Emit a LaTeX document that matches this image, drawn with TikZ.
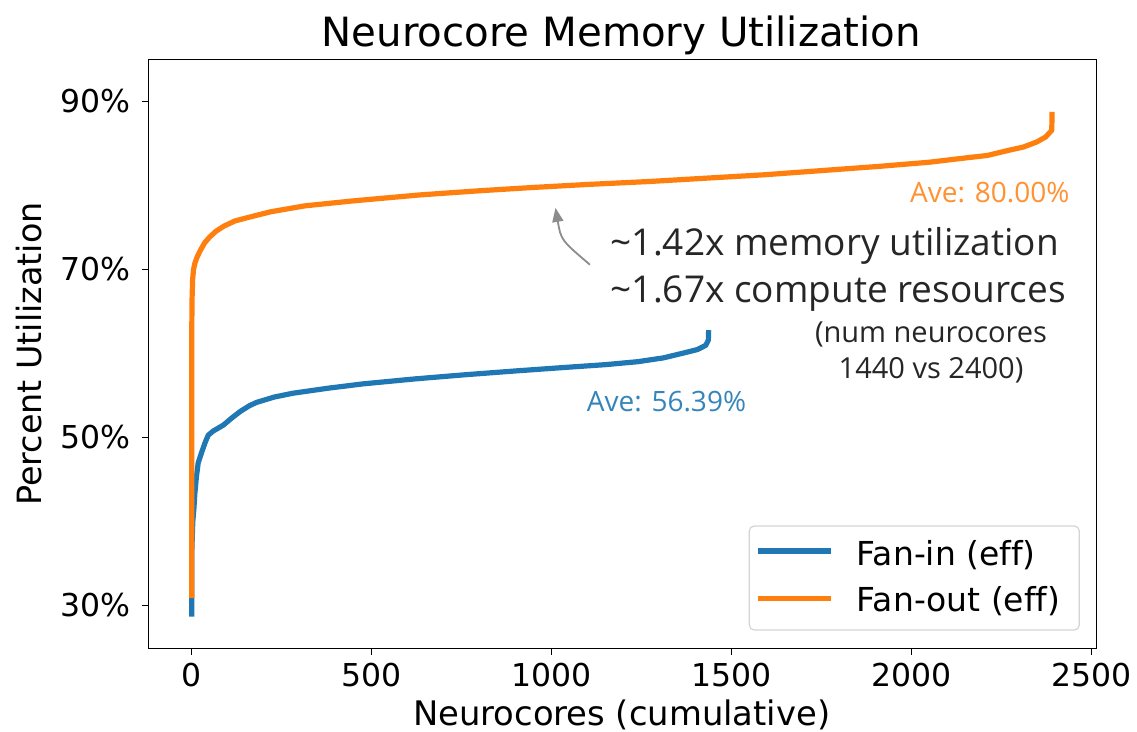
\documentclass[tikz,border=0pt]{standalone}
\usepackage{fontspec}
\setmainfont[Ligatures=CommonOff]{DejaVu Sans}
\newfontfamily\osans{Open Sans}
\usetikzlibrary{arrows.meta}
\definecolor{tabblue}{HTML}{1F77B4}
\definecolor{taborange}{HTML}{FF7F0E}
\definecolor{anntext}{HTML}{262626}
\definecolor{arrgray}{HTML}{8C8C8C}
\definecolor{legedge}{HTML}{D4D4D4}
\newcommand{\fsz}[1]{\fontsize{#1}{#1}\selectfont}
\begin{document}
\begin{tikzpicture}[x=1pt,y=-1pt,
  ticklab/.style={inner sep=0pt,font=\fsz{31.5}},
  tickmark/.style={line width=1.2pt,black},
  series/.style={line width=5.2pt,line join=round},
  avelab/.style={inner sep=0pt,anchor=base west,font=\osans\fsz{28}},
  anntxt/.style={inner sep=0pt,text=anntext},
  legtxt/.style={inner sep=0pt,anchor=base west,font=\fsz{33}},
  ]
\useasboundingbox[fill=white] (0,0) rectangle (1137,731);

% axes frame
\draw[line width=1.2pt] (148.7,59.3) rectangle (1096.7,648.3);

% x ticks
\foreach \v/\px in {0/191.7,500/371.7,1000/551.7,1500/731.7,2000/911.7,2500/1091.7}{
  \draw[tickmark] (\px,648.3) -- (\px,655.3);
  \node[ticklab,anchor=base] (xt\v) at (\px,686.7) {\v};
}
% y ticks
\foreach \v/\py in {30/605.7,50/437.7,70/269.7,90/101.7}{
  \draw[tickmark] (141.7,\py) -- (148.7,\py);
  \node[ticklab,anchor=base east] (yt\v) at (130.5,{\py+10.8}) {\v\%};
}

% labels
\node[inner sep=0pt,anchor=base,font=\fsz{40.3}] (title) at (621.4,46) {Neurocore Memory Utilization};
\node[inner sep=0pt,anchor=base,font=\fsz{33.8}] (xlab) at (621.7,725) {Neurocores (cumulative)};
\node[inner sep=0pt,anchor=base,rotate=90,font=\fsz{33.4}] (ylab) at (41.7,354) {Percent Utilization};

% data
\begin{scope}[shift={(191.7,857.7)},x=0.36pt,y=8.4pt]
\draw[series,tabblue] plot coordinates {(0,28.7) (0,36) (3,40) (6,41.5) (9,43.5) (13,45.3) (18,47) (28,48.3) (38,49.5) (46,50.3) (60,50.8) (88,51.5) (110,52.3) (134,53.1) (160,53.8) (180,54.2) (230,54.85) (282,55.3) (380,55.9) (474,56.4) (620,57.0) (761,57.5) (900,57.95) (1048,58.4) (1150,58.7) (1239,59.05) (1310,59.5) (1363,60.05) (1405,60.5) (1428,61.0) (1435,61.6) (1436,62.8)};
\draw[series,taborange] plot coordinates {(0,30.9) (0,62) (1,66.5) (2.5,68.8) (5,70.0) (9,70.8) (15,71.5) (24,72.3) (36,73.2) (50,73.9) (68,74.6) (90,75.2) (120,75.8) (155,76.2) (220,76.9) (314,77.6) (450,78.2) (633,78.9) (800,79.4) (952,79.8) (1100,80.15) (1271,80.5) (1430,80.9) (1590,81.3) (1750,81.8) (1909,82.3) (2050,82.8) (2148,83.3) (2210,83.6) (2273,84.25) (2310,84.6) (2347,85.2) (2372,85.8) (2389,86.6) (2390,88.8)};
\end{scope}

% average labels
\node[avelab,text=taborange!85!white] (aveout) at (910,202.3) {Ave: 80.00\%};
\node[avelab,text=tabblue!90!white] (avein) at (586.7,411.7) {Ave: 56.39\%};

% annotation
\node[anntxt,anchor=base west,font=\osans\fsz{37}] (ann1) at (610.6,255.4) {\textasciitilde1.42x memory utilization};
\node[anntxt,anchor=base west,font=\osans\fsz{37}] (ann2) at (610.6,302.6) {\textasciitilde1.67x compute resources};
\node[anntxt,anchor=base,font=\osans\fsz{29}] (ann3) at (931,342.2) {(num neurocores};
\node[anntxt,anchor=base,font=\osans\fsz{29}] (ann4) at (931,378) {1440 vs 2400)};
\coordinate (arrs) at (589.9,264.7);
\coordinate (arre) at (555.5,207.9);
\draw[arrgray,line width=1.8pt,-{Triangle[length=14pt,width=11pt]}] (arrs) .. controls (561,240) .. (arre);

% legend
\draw[legedge,line width=1.2pt,fill=white,rounded corners=5pt] (749.3,526) rectangle (1079.3,630);
\coordinate (lb1) at (758,551);
\coordinate (lb2) at (831,551);
\coordinate (lo1) at (758,598.3);
\coordinate (lo2) at (831,598.3);
\draw[series,tabblue] (lb1) -- (lb2);
\draw[series,taborange] (lo1) -- (lo2);
\node[legtxt] (legin) at (856.7,565) {Fan-in (eff)};
\node[legtxt] (legout) at (856.7,611.7) {Fan-out (eff)};
\end{tikzpicture}
\end{document}
